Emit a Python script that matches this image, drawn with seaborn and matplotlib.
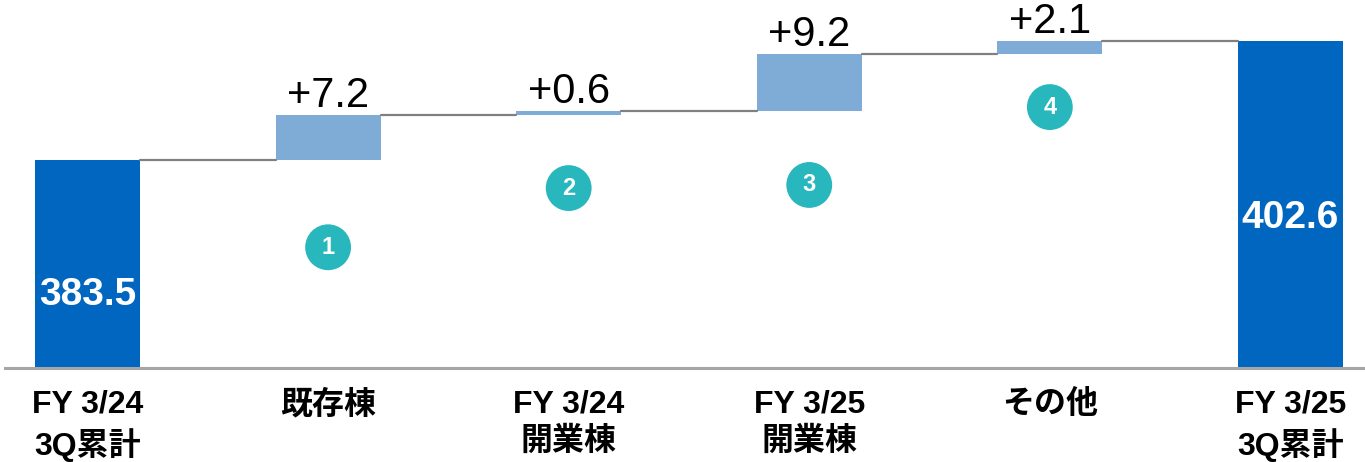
import numpy as np
import pandas as pd
import matplotlib
matplotlib.use("Agg")
import matplotlib.pyplot as plt
import seaborn as sns

# data
labels = ["FY 3/24\n3Q累計", "既存棟", "FY 3/24\n開業棟", "FY 3/25\n開業棟", "その他", "FY 3/25\n3Q累計"]
start_total = 383.5
deltas = [7.2, 0.6, 9.2, 2.1]
end_total = 402.6
badge_nums = ["1", "2", "3", "4"]
badge_y = [369.5, 379.0, 379.5, 392.0]
total_label_y = [361.8, 374.2]

sns.set_theme(style="white")
plt.rcParams["font.family"] = ["Liberation Sans", "Noto Sans CJK JP", "DejaVu Sans"]

levels = np.concatenate([[start_total], start_total + np.cumsum(deltas)])
tops = list(levels) + [end_total]
bases = [0] + list(levels[:-1]) + [0]
kind = ["total"] + ["delta"] * len(deltas) + ["total"]

df = pd.DataFrame({"label": labels, "top": tops, "base": bases, "kind": kind})

fig = plt.figure(figsize=(13.65, 4.62), dpi=100)
ax = fig.add_axes([5 / 1365, 94.5 / 462, 1360 / 1365, 367.5 / 462])

bw = 0.436
sns.barplot(data=df, x="label", y="top", hue="kind", dodge=False, width=bw,
            palette={"total": "#0066C0", "delta": "#7FACD6"}, legend=False,
            linewidth=0, saturation=1, ax=ax, zorder=2)
# white mask for floating bars
sns.barplot(data=df, x="label", y="base", color="white", width=bw + 0.004,
            linewidth=0, saturation=1, ax=ax, zorder=3)

# connectors
for i, lv in enumerate(levels):
    ax.plot([i + bw / 2, i + 1 - bw / 2], [lv, lv], color="#808080", lw=1.6, zorder=4)

# delta labels
for i, d in enumerate(deltas):
    ax.annotate(f"+{d}", (i + 1, levels[i + 1]), xytext=(0, 6), textcoords="offset points",
                ha="center", va="baseline", fontsize=30, color="black", zorder=5)

# total labels
for xi, v, ty in zip([0, len(labels) - 1], [start_total, end_total], total_label_y):
    ax.text(xi, ty, f"{v}", ha="center", va="center", fontsize=28, fontweight="bold",
            color="white", zorder=5)

# numbered badges
bx = np.arange(1, len(deltas) + 1)
ax.scatter(bx, badge_y, s=33 ** 2, color="#27B7BC", edgecolors="none", zorder=5, clip_on=False)
for x, y, n in zip(bx, badge_y, badge_nums):
    ax.text(x, y, n, ha="center", va="center", fontsize=17, fontweight="bold", color="white", zorder=6)

ax.set_xlim(-0.343, 5.31)
ax.set_ylim(350.2, 350.2 + 367.5 / 6.23)
ax.set_xlabel("")
ax.set_ylabel("")
ax.set_yticks([])
for s in ["top", "left", "right"]:
    ax.spines[s].set_visible(False)
ax.spines["bottom"].set_color("#A6A6A6")
ax.spines["bottom"].set_linewidth(2.2)
ax.spines["bottom"].set_zorder(6)
ax.tick_params(axis="x", length=0, pad=16)
for t in ax.get_xticklabels():
    t.set_fontsize(23)
    t.set_fontweight("bold")
    t.set_color("black")
    t.set_linespacing(1.3)
    t.set_va("top")

fig.savefig("out.png", dpi=100)
